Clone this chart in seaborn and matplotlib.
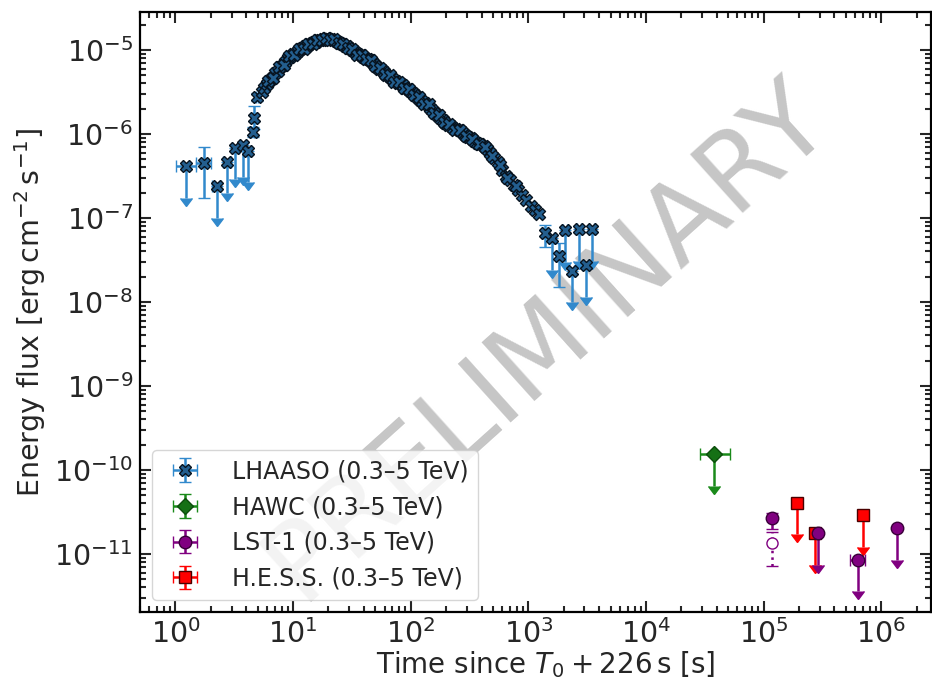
import matplotlib
matplotlib.use("Agg")
import numpy as np
import pandas as pd
import matplotlib.pyplot as plt
import matplotlib.ticker as mticker
import seaborn as sns

# ---------------- data ----------------
# LHAASO main light curve (detections, errors hidden by markers)
lh_t = [5.4, 5.7, 6.0, 6.3, 6.6, 7.0, 7.4, 7.8, 8.2, 8.6, 9.0, 9.5, 10.0, 10.5, 11.0, 11.5,
        12.0, 12.6, 13.2, 13.8, 14.4, 15.0, 15.7, 16.4, 17.1, 17.8, 18.6, 19.4, 20.2, 21.0,
        22.0, 23.0, 24.0, 25.0, 26.2, 27.4, 28.6, 30.0, 31.4, 32.8, 34.3, 36.0, 37.6, 39.3,
        41.0, 43.0, 45.0, 47.0, 49.0, 51.5, 54.0, 56.5, 59.0, 62.0, 65.0, 68.0, 71.0, 74.5,
        78.0, 82.0, 86.0, 90.0, 94.0, 99.0, 104.0, 109.0, 114.0, 120.0, 126.0, 132.0, 139.0,
        146.0, 153.0, 161.0, 169.0, 178.0, 187.0, 197.0, 208.0, 219.0, 231.0, 244.0, 258.0,
        273.0, 289.0, 306.0, 324.0, 344.0, 366.0, 390.0, 416.0, 445.0, 477.0, 512.0, 550.0,
        592.0, 640.0, 695.0, 755.0, 820.0, 890.0, 965.0, 1050.0, 1140.0, 1240.0]
lh_f = [3.16e-6, 3.55e-6, 3.9e-6, 4.27e-6, 4.68e-6, 5.25e-6, 5.62e-6, 6.31e-6, 6.6e-6, 7.24e-6,
        7.94e-6, 8.3e-6, 8.9e-6, 9.3e-6, 9.8e-6, 1.02e-5, 1.05e-5, 1.10e-5, 1.12e-5, 1.17e-5,
        1.20e-5, 1.26e-5, 1.25e-5, 1.31e-5, 1.32e-5, 1.35e-5, 1.34e-5, 1.37e-5, 1.35e-5, 1.34e-5,
        1.31e-5, 1.29e-5, 1.26e-5, 1.21e-5, 1.17e-5, 1.12e-5, 1.10e-5, 1.05e-5, 1.0e-5, 9.8e-6,
        9.3e-6, 8.9e-6, 8.7e-6, 8.3e-6, 8.1e-6, 7.8e-6, 7.6e-6, 7.1e-6, 6.8e-6, 6.3e-6, 6.0e-6,
        5.75e-6, 5.5e-6, 5.1e-6, 4.9e-6, 4.68e-6, 4.47e-6, 4.27e-6, 4.07e-6, 3.9e-6, 3.8e-6,
        3.55e-6, 3.39e-6, 3.24e-6, 3.09e-6, 2.88e-6, 2.75e-6, 2.57e-6, 2.45e-6, 2.34e-6, 2.19e-6,
        2.04e-6, 1.91e-6, 1.78e-6, 1.66e-6, 1.55e-6, 1.45e-6, 1.35e-6, 1.29e-6, 1.23e-6, 1.17e-6,
        1.15e-6, 1.10e-6, 1.05e-6, 9.8e-7, 9.3e-7, 8.9e-7, 8.3e-7, 7.9e-7, 7.6e-7, 7.2e-7, 6.6e-7,
        5.9e-7, 5.2e-7, 4.7e-7, 3.7e-7, 3.2e-7, 2.8e-7, 2.5e-7, 2.14e-7, 1.86e-7, 1.62e-7,
        1.38e-7, 1.23e-7, 1.12e-7]
# second, interleaved set of LHAASO bins (overlapping time windows)
lh2_t = [6.15, 6.8, 7.6, 8.4, 9.25, 10.2, 11.2, 12.3, 13.5, 14.7, 16.0, 17.5, 19.0, 20.6,
         22.5, 24.5, 26.8, 29.3, 32.0, 35.1, 38.5, 42.0, 46.0, 50.2, 55.2, 60.5, 66.5, 72.7,
         80.0, 88.0, 96.5, 106.5, 117.0, 129.0, 142.5, 157.0, 173.5, 192.0, 213.0, 237.0,
         265.0, 297.0, 334.0, 378.0, 430.0, 495.0, 570.0, 665.0, 785.0]
lh2_f = [4.3e-6, 4.7e-6, 6.2e-6, 6.7e-6, 8.4e-6, 8.7e-6, 1.04e-5, 1.03e-5, 1.19e-5, 1.18e-5,
         1.33e-5, 1.30e-5, 1.40e-5, 1.31e-5, 1.34e-5, 1.22e-5, 1.19e-5, 1.05e-5, 1.03e-5,
         8.8e-6, 8.8e-6, 7.7e-6, 7.6e-6, 6.4e-6, 6.1e-6, 5.2e-6, 5.0e-6, 4.2e-6, 4.1e-6,
         3.5e-6, 3.45e-6, 2.9e-6, 2.75e-6, 2.3e-6, 2.25e-6, 1.8e-6, 1.7e-6, 1.38e-6, 1.30e-6,
         1.12e-6, 1.1e-6, 9.5e-7, 8.8e-7, 7.6e-7, 7.0e-7, 5.4e-7, 4.3e-7, 3.0e-7, 2.4e-7]

# LHAASO detections with visible error bars
lhd_t = [1.74, 4.55, 4.70, 4.92, 1381.0, 1829.0]
lhd_f = [4.5e-7, 1.06e-6, 1.54e-6, 2.74e-6, 6.6e-8, 3.5e-8]
lhd_flo = [2.75e-7, 1.5e-7, 4.0e-7, 3.0e-7, 2.1e-8, 2.0e-8]
lhd_fhi = [2.56e-7, 1.5e-7, 6.0e-7, 3.0e-7, 1.7e-8, 1.5e-8]
lhd_tlo = [0.23, 0.12, 0.1, 0.1, 60.0, 80.0]
lhd_thi = [0.26, 0.12, 0.1, 0.1, 60.0, 80.0]

# LHAASO upper limits
lhu_t = [1.23, 2.25, 2.75, 3.24, 3.77, 4.18, 1575.0, 2046.0, 2332.0, 2692.0, 3083.0, 3450.0]
lhu_f = [4.1e-7, 2.4e-7, 4.7e-7, 6.9e-7, 7.3e-7, 6.3e-7, 5.7e-8, 7.1e-8, 2.36e-8, 7.3e-8,
         2.75e-8, 7.3e-8]
lhu_tlo = [0.21, 0.2, 0.2, 0.2, 0.2, 0.15, 70.0, 90.0, 100.0, 120.0, 140.0, 150.0]
lhu_thi = [0.28, 0.2, 0.2, 0.2, 0.2, 0.15, 70.0, 90.0, 100.0, 120.0, 140.0, 150.0]

# HAWC (upper limit)
hawc_t = [3.81e4]
hawc_f = [1.55e-10]
hawc_tlo = [0.93e4]
hawc_thi = [1.38e4]

# LST-1
lst_det_t = [1.17e5]
lst_det_f = [2.7e-11]
lst_det_flo = [0.7e-11]
lst_det_fhi = [0.4e-11]
lst_open_t = [1.17e5]
lst_open_f = [1.34e-11]
lst_open_flo = [0.63e-11]
lst_open_fhi = [0.5e-11]
lst_ul_t = [2.93e5, 6.34e5, 1.36e6]
lst_ul_f = [1.78e-11, 8.6e-12, 2.02e-11]
lst_ul_tlo = [0.1e5, 0.89e5, 0.3e5]
lst_ul_thi = [0.1e5, 0.96e5, 0.3e5]

# H.E.S.S. (upper limits)
hess_t = [1.92e5, 2.74e5, 7.06e5]
hess_f = [4.1e-11, 1.78e-11, 2.9e-11]

labels = ["LHAASO (0.3–5 TeV)", "HAWC (0.3–5 TeV)", "LST-1 (0.3–5 TeV)", "H.E.S.S. (0.3–5 TeV)"]

# axis ticks (decades shown)
x_decades = [0, 1, 2, 3, 4, 5, 6]
y_decades = [-11, -10, -9, -8, -7, -6, -5]

# ---------------- style ----------------
UL_FRAC = 0.58   # arrow length of upper limits (fraction of value)
C_LH = "#3189cc"
C_LH_FACE = "#235e8e"
C_LH_EDGE = "#07131f"
XMIN, XMAX = 0.5, 2.65e6
YMIN, YMAX = 2.04e-12, 2.83e-5

sns.set_theme(style="ticks")
plt.rcParams["font.family"] = ["DejaVu Sans"]
plt.rcParams["mathtext.fontset"] = "dejavusans"

fig = plt.figure(figsize=(9.32, 6.83), dpi=100)
ax = fig.add_axes([140 / 932, 1 - 612 / 683, 791 / 932, 600 / 683])

ax.set_xscale("log")
ax.set_yscale("log")

eb_kw = dict(capsize=4, elinewidth=1.8, capthick=1.5, markersize=8, markeredgewidth=1.0)

# LHAASO
ax.errorbar(lhu_t, lhu_f, xerr=[lhu_tlo, lhu_thi], yerr=UL_FRAC * np.array(lhu_f), uplims=True,
            fmt="X", color=C_LH, mfc=C_LH_FACE, mec=C_LH_EDGE, zorder=3, **eb_kw)
lh_cont = ax.errorbar(lhd_t, lhd_f, xerr=[lhd_tlo, lhd_thi], yerr=[lhd_flo, lhd_fhi],
                      fmt="X", color=C_LH, mfc=C_LH_FACE, mec=C_LH_EDGE, zorder=3, **eb_kw)
df = pd.DataFrame({"t": lh_t + lh2_t, "f": lh_f + lh2_f})
sns.scatterplot(data=df, x="t", y="f", marker="X", s=75, color=C_LH_FACE,
                edgecolor=C_LH_EDGE, linewidth=1.0, ax=ax, zorder=4, legend=False)

# HAWC
hawc_cont = ax.errorbar(hawc_t, hawc_f, xerr=[hawc_tlo, hawc_thi],
                        yerr=UL_FRAC * np.array(hawc_f), uplims=True,
                        fmt="D", color="#1a8a1a", mfc="#157015", mec="#0b4d0b", zorder=3,
                        **{**eb_kw, "markersize": 8})

# H.E.S.S.
hess_cont = ax.errorbar(hess_t, hess_f, xerr=[[0.0] * 3, [0.0] * 3],
                        yerr=UL_FRAC * np.array(hess_f), uplims=True,
                        fmt="s", color="red", mfc="red", mec="#4a0000", zorder=3,
                        **{**eb_kw, "markersize": 8})

# LST-1
ax.errorbar(lst_open_t, lst_open_f, yerr=[lst_open_flo, lst_open_fhi], fmt="o",
            color="purple", mfc="white", mec="purple", ls="none", zorder=3,
            **eb_kw)[2][0].set_linestyle(":")
lst_cont = ax.errorbar(lst_det_t, lst_det_f, xerr=[[0.04e5], [0.04e5]],
                       yerr=[lst_det_flo, lst_det_fhi], fmt="o", color="purple",
                       mfc="purple", mec="#3a003a", zorder=3, **{**eb_kw, "markersize": 9})
ax.errorbar(lst_ul_t, lst_ul_f, xerr=[lst_ul_tlo, lst_ul_thi],
            yerr=UL_FRAC * np.array(lst_ul_f), uplims=True, fmt="o", color="purple",
            mfc="purple", mec="#3a003a", zorder=3, **{**eb_kw, "markersize": 9})

# watermark
ax.text(0.515, 0.453, "PRELIMINARY", transform=ax.transAxes, rotation=42, fontsize=78,
        color="#c6c6c6", ha="center", va="center", zorder=1, clip_on=True)

ax.set_xlim(XMIN, XMAX)
ax.set_ylim(YMIN, YMAX)

# ticks only inside the shown range
x_major = [10.0 ** d for d in x_decades]
y_major = [10.0 ** d for d in y_decades]
x_minor = [m * 10.0 ** d for d in [-1] + x_decades for m in range(2, 10)
           if XMIN <= m * 10.0 ** d <= XMAX]
y_minor = [m * 10.0 ** d for d in [-12] + y_decades for m in range(2, 10)
           if YMIN <= m * 10.0 ** d <= YMAX]
ax.xaxis.set_major_locator(mticker.FixedLocator(x_major))
ax.yaxis.set_major_locator(mticker.FixedLocator(y_major))
ax.xaxis.set_minor_locator(mticker.FixedLocator(x_minor))
ax.yaxis.set_minor_locator(mticker.FixedLocator(y_minor))
ax.xaxis.set_major_formatter(mticker.FuncFormatter(lambda v, p: r"$10^{%d}$" % round(np.log10(v))))
ax.yaxis.set_major_formatter(mticker.FuncFormatter(lambda v, p: r"$10^{%d}$" % round(np.log10(v))))
ax.xaxis.set_minor_formatter(mticker.NullFormatter())
ax.yaxis.set_minor_formatter(mticker.NullFormatter())

ax.set_xlabel(r"Time since $T_0 + 226\,\mathrm{s}$ [s]", fontsize=20)
ax.xaxis.set_label_coords(0.513, -0.062)
ax.set_ylabel(r"Energy flux [$\mathrm{erg\,cm^{-2}\,s^{-1}}$]", fontsize=20.5, labelpad=4)

ax.tick_params(which="both", direction="in", top=True, right=True, width=1.5,
               labelsize=20.5)
ax.tick_params(which="major", length=8, pad=5)
ax.tick_params(which="minor", length=4)
for s in ax.spines.values():
    s.set_linewidth(1.6)
    s.set_color("black")

ax.legend([lh_cont, hawc_cont, lst_cont, hess_cont], labels, loc="lower left",
          fontsize=17, frameon=True, borderaxespad=0.5, handletextpad=1.0,
          labelspacing=0.5)

fig.savefig("out.png", dpi=100)
